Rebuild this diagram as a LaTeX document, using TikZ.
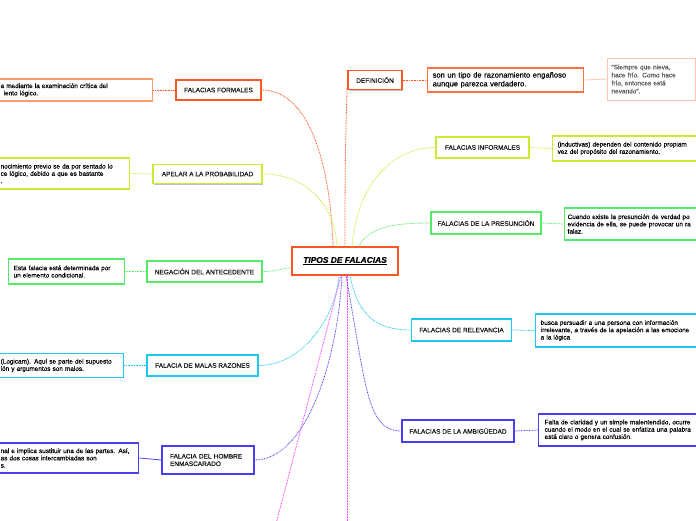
\documentclass[tikz,border=0pt]{standalone}
\usepackage{fontspec}
\setmainfont{Liberation Sans}[FakeBold=0.35]
\usetikzlibrary{shadows,calc}
\definecolor{cOr}{HTML}{FF5722}
\definecolor{cOrL}{HTML}{FF9A70}
\definecolor{cOrD}{HTML}{FF7043}
\definecolor{cOrQ}{HTML}{FFC5B0}
\definecolor{cLi}{HTML}{C8EC30}
\definecolor{cGr}{HTML}{55EA6A}
\definecolor{cCy}{HTML}{1CC8EC}
\definecolor{cBl}{HTML}{4A3FF0}
\definecolor{cMa}{HTML}{FF3CFF}
\newcommand\fsmain{\fontsize{6.5}{7.5}\selectfont}
\newcommand\fsdet{\fontsize{6.4}{7.3}\selectfont}
\newcommand\fsdef{\fontsize{7.6}{8.8}\selectfont}
\newcommand\fsquote{\fontsize{6.5}{8}\selectfont}
\newcommand\fsctr{\fontsize{8.4}{10}\selectfont\bfseries\itshape}
\begin{document}
\begin{tikzpicture}[x=1pt,y=-1pt,
  mainbox/.style={draw=#1, line width=1.2pt, fill=white, inner sep=2pt, font=\fsmain, text=black!90,
    drop shadow={shadow xshift=0.8pt,shadow yshift=-1pt,opacity=0.25,fill=black}},
  detbox/.style={draw=#1, line width=1.3pt, fill=white, inner ysep=1pt, font=\fsdet, align=left, anchor=west, text=black},
  con/.style={draw=#1, line width=0.8pt, dash pattern=on 0.8pt off 0.8pt},
]
\useasboundingbox (0,0) rectangle (696,520);
\clip (0,0) rectangle (696,520);
\fill[white] (0,0) rectangle (696,520);

% centre
\node[mainbox=cOr, line width=1.3pt, minimum width=106pt, minimum height=28pt, font=\fsctr, text=black] (ctr) at (345,261) {\underline{TIPOS DE FALACIAS}};

% left main nodes
\node[mainbox=cOr, minimum width=85pt, minimum height=20pt] (formales) at (218.5,90) {FALACIAS FORMALES};
\node[mainbox=cLi, minimum width=109pt, minimum height=19pt] (apelar) at (207.5,174) {APELAR A LA PROBABILIDAD};
\node[mainbox=cGr, minimum width=115pt, minimum height=21pt] (negacion) at (204.5,271.5) {NEGACIÓN DEL ANTECEDENTE};
\node[mainbox=cCy, minimum width=111pt, minimum height=21pt] (malas) at (202.5,365.5) {FALACIA DE MALAS RAZONES};
\node[mainbox=cBl, minimum width=92pt, minimum height=28pt, text width=76pt, inner xsep=8pt, align=left] (hombre) at (208,460) {FALACIA DEL HOMBRE\\ENMASCARADO};

% right main nodes
\node[mainbox=cOr, minimum width=54pt, minimum height=19pt] (definicion) at (375,80) {DEFINICIÓN};
\node[mainbox=cLi, minimum width=93pt, minimum height=21pt] (informales) at (482.5,147.5) {FALACIAS INFORMALES};
\node[mainbox=cGr, minimum width=110pt, minimum height=22pt] (presuncion) at (486,223) {FALACIAS DE LA PRESUNCIÓN};
\node[mainbox=cCy, minimum width=100pt, minimum height=22pt] (relevancia) at (461.5,330) {FALACIAS DE RELEVANCIA};
\node[mainbox=cBl, minimum width=112pt, minimum height=22pt] (ambig) at (458,431) {FALACIAS DE LA AMBIGÜEDAD};

% left detail boxes
\node[detbox=cOrL, inner xsep=5pt, text width=147pt, minimum height=22pt] (dformales) at (-5,90)
  {a mediante la examinación crítica del\\\hspace*{3pt}iento lógico.};
\node[detbox=cLi, inner xsep=5pt, text width=124pt, minimum height=31pt] (dapelar) at (-5,173.5)
  {nocimiento previo se da por sentado lo\\ce lógico, debido a que es bastante\\.};
\node[detbox=cGr, inner xsep=5pt, text width=106pt, minimum height=25pt] (dnegacion) at (8,271.5)
  {\mbox{Esta falacia está determinada por}\\un elemento condicional.};
\node[detbox=cCy, inner xsep=5pt, text width=118pt, minimum height=24pt] (dmalas) at (-5,365.5)
  {(Logicam). Aquí se parte del supuesto\\ión y argumentos son malos.};
\node[detbox=cBl, inner xsep=5pt, text width=133pt, minimum height=30pt] (dhombre) at (-5,458)
  {\mbox{nal e implica sustituir una de las partes. Así,}\\as dos cosas intercambiadas son\\s.};

% right detail boxes
\node[detbox=cOrD, inner xsep=5pt, text width=146pt, minimum height=24pt, font=\fsdef] (ddefinicion) at (427,80)
  {son un tipo de razonamiento engañoso\\aunque parezca verdadero.};
\node[detbox=cOrQ, line width=1pt, inner xsep=4pt, text width=80pt, minimum height=42pt, font=\fsquote, text=black!65] (quote) at (607,79)
  {“Siempre que nieva,\\hace frío. Como hace\\frío, entonces está\\nevando”.};
\node[detbox=cLi, inner xsep=5pt, text width=200pt, minimum height=25pt] (dinformales) at (552,148.5)
  {(inductivas) dependen del contenido propiam\\vez del propósito del razonamiento.};
\node[detbox=cGr, inner xsep=3pt, text width=200pt, minimum height=32pt] (dpresuncion) at (564,224)
  {Cuando existe la presunción de verdad po\\evidencia de ella, se puede provocar un ra\\falaz.};
\node[detbox=cCy, inner xsep=5pt, text width=200pt, minimum height=33pt] (drelevancia) at (535,330.5)
  {busca persuadir a una persona con información\\irrelevante, a través de la apelación a las emocione\\a la lógica};
\node[detbox=cBl, inner xsep=6pt, text width=200pt, minimum height=32pt] (dambig) at (538,430)
  {Falta de claridad y un simple malentendido, ocurre\\cuando el modo en el cual se enfatiza una palabra\\está claro o genera confusión.};

% free ends
\coordinate (m1) at (276,524);
\coordinate (m2) at (347,524);

% connectors centre -> main
\draw[con=cOr] (formales.east) .. controls +(45,0) and +(-3,-90) .. ([xshift=-12pt]ctr.north);
\draw[con=cLi] (apelar.east) .. controls +(45,0) and +(-2,-40) .. ([xshift=-8pt]ctr.north);
\draw[con=cGr] (negacion.east) .. controls +(15,0) and +(-10,0) .. ([yshift=-7pt]ctr.west);
\draw[con=cCy] (malas.east) .. controls +(45,0) and +(-3,40) .. ([xshift=-6pt]ctr.south);
\draw[con=cBl] (hombre.east) .. controls +(50,0) and +(-5,90) .. ([xshift=-3pt]ctr.south);
\draw[con=cMa] ([xshift=-4pt]ctr.south) -- (m1);
\draw[con=cMa] ([xshift=2pt]ctr.south) -- (m2);
\draw[con=cOr] (definicion.west) .. controls +(-2,60) and +(0,-80) .. (ctr.north);
\draw[con=cLi] ([xshift=7pt]ctr.north) .. controls +(5,-60) and +(-45,0) .. (informales.west);
\draw[con=cGr] ([xshift=14pt]ctr.north) .. controls +(10,-20) and +(-35,0) .. (presuncion.west);
\draw[con=cCy] ([xshift=5pt]ctr.south) .. controls +(8,40) and +(-35,0) .. (relevancia.west);
\draw[con=cBl] ([xshift=1pt]ctr.south) .. controls +(20,110) and +(-35,0) .. (ambig.west);

% connectors main -> detail
\draw[con=cOr] (dformales.east) -- (formales.west);
\draw[con=cLi] (dapelar.east) -- (apelar.west);
\draw[con=cGr] (dnegacion.east) -- (negacion.west);
\draw[con=cCy] (dmalas.east) -- (malas.west);
\draw[draw=cBl, line width=0.8pt] (dhombre.east) -- (hombre.west);
\draw[con=cOr] (definicion.east) -- (ddefinicion.west);
\draw[draw=cOrQ, line width=0.8pt] (ddefinicion.east) -- (quote.west);
\draw[con=cLi] (informales.east) -- (dinformales.west);
\draw[con=cGr] (presuncion.east) -- (dpresuncion.west);
\draw[con=cCy] (relevancia.east) -- (drelevancia.west);
\draw[con=cBl] (ambig.east) -- (dambig.west);
\end{tikzpicture}
\end{document}
